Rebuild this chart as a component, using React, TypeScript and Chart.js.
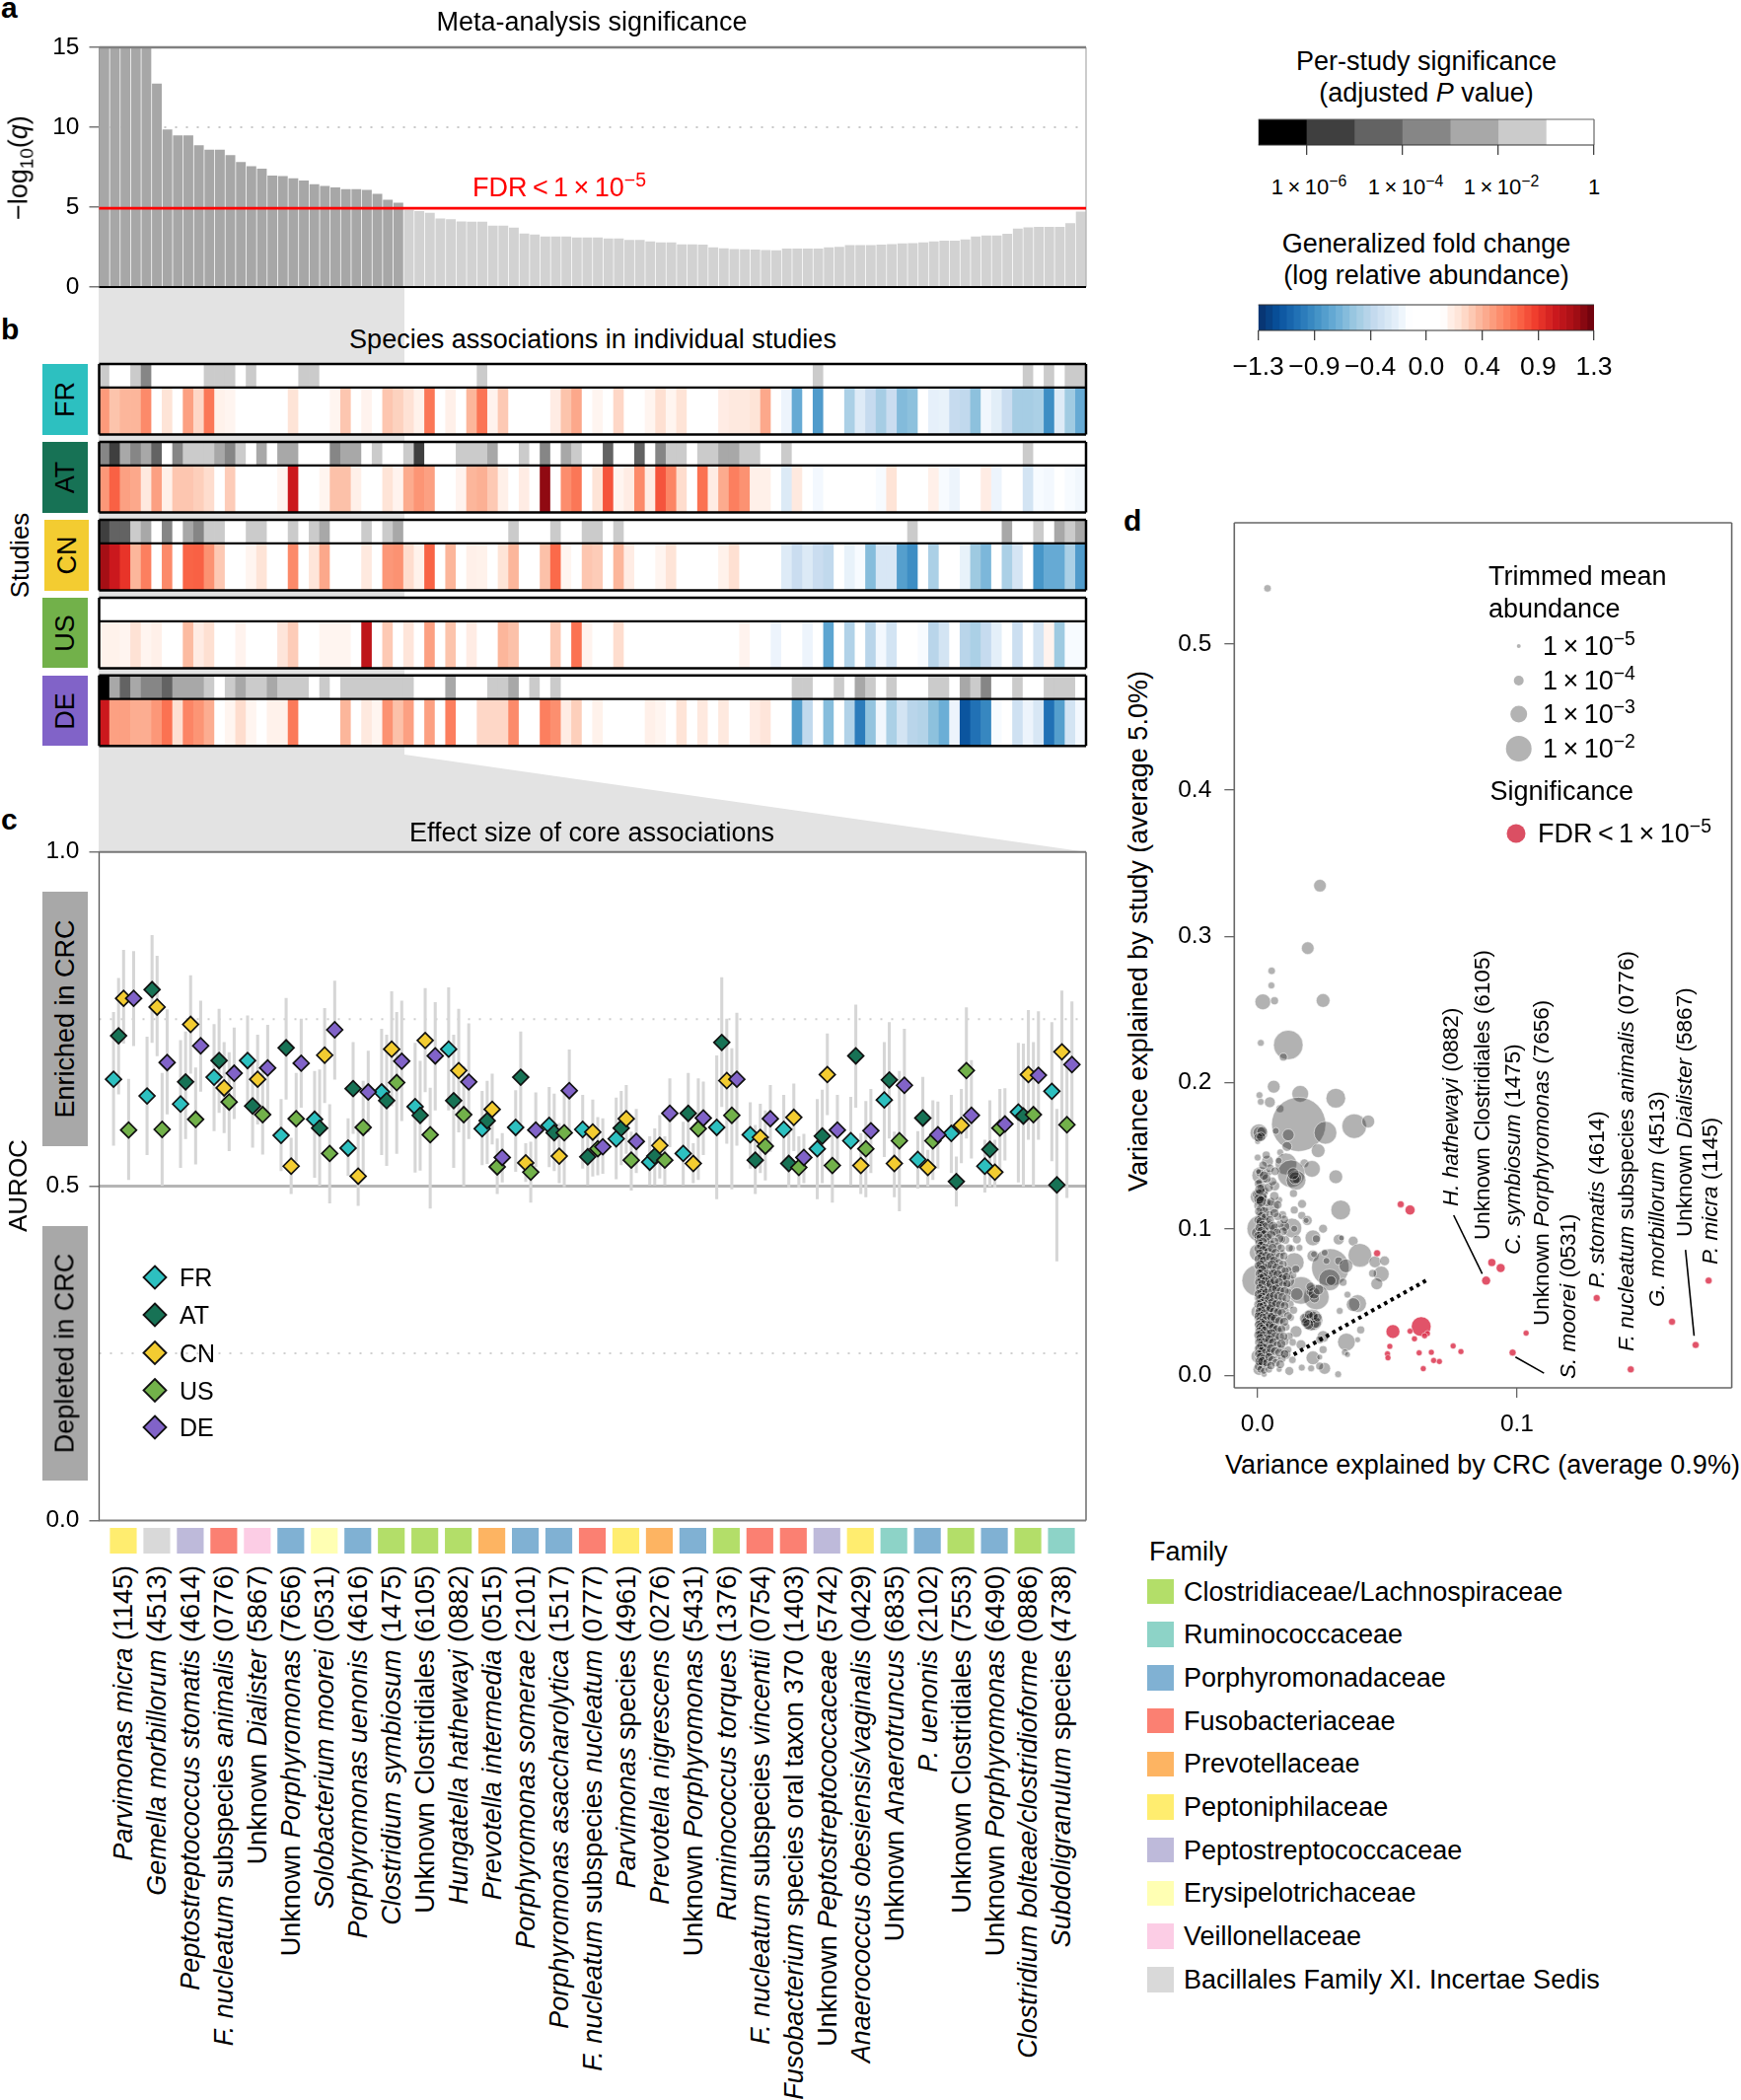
import React, { useEffect, useRef } from "react";
import { Chart, registerables } from "chart.js";
Chart.register(...registerables);

const FONT = '"Liberation Sans", Arial, Helvetica, sans-serif';

// ---------- panel a ----------
const metaSignificance = [
  15, 15, 15, 15, 15, 12.73, 9.86, 9.49, 9.49, 8.87, 8.6, 8.6, 8.25, 7.82, 7.56, 7.41, 6.98, 6.94, 6.8, 6.67, 6.43, 6.32, 6.24, 6.12, 6.12, 6.08, 5.83, 5.46, 5.28,
  4.83, 4.76, 4.64, 4.29, 4.25, 4.11, 4.09, 4.09, 3.84, 3.84, 3.72, 3.35, 3.29, 3.16, 3.16, 3.16, 3.1, 3.1, 3.1, 3.04, 3.04, 2.94, 2.94, 2.85, 2.79, 2.79, 2.67, 2.67, 2.65, 2.48, 2.42, 2.38, 2.36, 2.34, 2.32, 2.3,
  2.4, 2.4, 2.4, 2.4, 2.48, 2.52, 2.63, 2.63, 2.63, 2.65, 2.69, 2.73, 2.75, 2.79, 2.85, 2.9, 2.9, 2.98, 3.16, 3.22, 3.22, 3.33, 3.66, 3.74, 3.76, 3.76, 3.76, 4.0, 4.72,
];
const coreCount = 29;
const fdrLine = 4.93;
const significanceTicks = [0, 5, 10, 15];

// ---------- panel b ----------
const studies = ["FR", "AT", "CN", "US", "DE"];
const studyColors = ["#2dc0c0", "#177255", "#f3cc31", "#72b14a", "#8163c8"];

const fcFR = [0.52, 0.37, 0.42, 0.42, 0.58, 0, 0.25, 0, 0.5, 0.3, 0.65, 0.17, 0.15, 0, 0, 0, 0, 0, 0.25, 0, 0, 0, 0.15, 0.36, 0, 0.16, 0, 0.36, 0.32, 0.26, 0.17, 0.65, 0, 0.18, 0, 0.42, 0.66, 0.16, 0.35, 0, 0, 0, 0, 0.2, 0.37, 0.47, 0, 0.15, 0, 0.3, 0, 0, 0.15, 0.27, 0.15, 0.25, 0, 0, 0, 0.2, 0.22, 0.22, 0.25, 0.47, 0, -0.2, -0.72, 0, -0.8, 0, 0, -0.5, -0.27, -0.4, -0.52, -0.38, -0.63, -0.6, 0, -0.23, -0.22, -0.4, -0.42, -0.6, -0.18, -0.25, -0.38, -0.52, -0.52, -0.5, -0.87, -0.27, -0.54, -0.72];
const fcAT = [0.53, 0.73, 0.5, 0.47, 0.22, 0.5, 0.18, 0.36, 0.36, 0.33, 0.28, 0, 0.34, 0, 0, 0, 0, 0.15, 1.0, 0, 0, 0.15, 0.38, 0.38, 0.18, 0, 0, 0.25, 0.16, 0.46, 0.54, 0.5, 0, 0, 0.16, 0.42, 0.44, 0.35, 0.18, 0, 0.2, 0, 1.2, 0, 0.57, 0.65, 0, 0.25, 0.77, 0.15, 0.2, 0.58, 0.2, 0.77, 0.6, 0.28, 0, 0.67, 0.2, 0.46, 0.62, 0.55, 0.18, 0.18, 0, -0.28, 0.22, 0, -0.17, 0, 0, 0, 0, 0, -0.15, 0.25, 0, 0, 0, 0.18, -0.15, -0.2, 0, 0, 0.2, -0.2, 0, 0, -0.33, -0.15, -0.17, 0, -0.15, -0.18];
const fcCN = [1.15, 1.0, 0.88, 0.42, 0.62, 0, 0.58, 0, 0.72, 0.73, 0.55, 0.35, 0, 0, 0.15, 0.25, 0, 0, 0.58, 0, 0.24, 0.47, 0, 0, 0, 0.22, 0, 0.53, 0.55, 0.28, 0.17, 0.72, 0, 0.42, 0, 0.18, 0.17, 0, 0.25, 0.42, 0, 0, 0.38, 0.7, 0.15, 0, 0.36, 0.34, 0, 0.42, 0.2, 0, 0, 0.15, 0.25, 0, 0, 0, 0, 0.17, 0.27, 0, 0, 0, 0, -0.27, -0.38, -0.28, -0.38, -0.42, 0, -0.22, -0.15, -0.62, -0.3, -0.3, -0.78, -0.87, 0, -0.5, 0, 0, -0.22, -0.55, -0.65, 0, -0.5, -0.32, 0, -0.83, -0.72, -0.72, -0.5, -0.8];
const fcUS = [0.17, 0.17, 0.15, 0.26, 0.15, 0.18, 0, 0, 0.4, 0.2, 0.27, 0, 0, 0.16, 0, 0, 0, 0.24, 0.34, 0, 0, 0.15, 0.15, 0.15, 0, 1.05, 0, 0.35, 0, 0.24, 0, 0.5, 0, 0.37, 0, 0.2, 0, 0, 0.42, 0.38, 0, 0, 0, 0.35, 0, 0.67, 0.16, 0, 0, 0.28, 0, 0, 0, 0, 0, 0, 0, 0, 0, 0, 0, 0.16, 0, 0, -0.2, 0, 0, -0.2, 0, -0.75, 0, -0.48, 0, -0.45, -0.17, -0.33, 0, 0, -0.15, -0.45, -0.33, 0, -0.45, -0.5, -0.4, -0.24, 0, -0.37, 0, -0.33, 0.16, -0.55, -0.15, -0.15];
const fcDE = [1.0, 0.5, 0.5, 0.45, 0.45, 0.53, 0.67, 0.27, 0.6, 0.54, 0.45, 0, 0.15, 0.28, 0.15, 0, 0.17, 0.17, 0.64, 0, 0, 0, 0, 0.42, 0, 0.22, 0.15, 0.55, 0.38, 0.5, 0, 0.5, 0, 0.62, 0, 0, 0.3, 0.3, 0.3, 0.58, 0, 0, 0.62, 0.56, 0.2, 0.33, 0, 0.17, 0, 0, 0, 0, 0.18, 0.15, 0, 0.25, 0, 0.22, 0, 0.22, 0, 0, 0.2, 0.24, 0, 0, -0.78, -0.42, 0, -0.62, 0, -0.48, -0.95, -0.58, -0.18, -0.5, -0.33, -0.45, -0.47, -0.6, -0.7, -0.2, -1.13, -1.0, -0.9, -0.15, 0, -0.35, -0.2, -0.3, -1.0, -0.78, -0.33, -0.17];
const foldChanges = [fcFR, fcAT, fcCN, fcUS, fcDE];

const sigFR = [1, 0, 0, 1, 3, 0, 0, 0, 0, 0, 1, 1, 1, 0, 1, 0, 0, 0, 0, 1, 1, 0, 0, 0, 0, 0, 0, 0, 0, 0, 0, 0, 0, 0, 0, 0, 1, 0, 0, 0, 0, 0, 0, 0, 0, 0, 0, 0, 0, 0, 0, 0, 0, 0, 0, 0, 0, 0, 0, 0, 0, 0, 0, 0, 0, 0, 0, 0, 1, 0, 0, 0, 0, 0, 0, 0, 0, 0, 0, 0, 0, 0, 0, 0, 0, 0, 0, 0, 1, 0, 1, 0, 1, 1];
const sigAT = [3, 5, 2, 3, 2, 4, 0, 3, 1, 1, 1, 2, 3, 1, 0, 2, 0, 2, 2, 0, 0, 0, 3, 2, 2, 0, 1, 0, 0, 1, 5, 0, 0, 0, 1, 1, 1, 2, 0, 0, 1, 0, 3, 0, 2, 1, 0, 0, 4, 0, 0, 4, 0, 3, 1, 1, 0, 1, 1, 2, 2, 1, 1, 0, 0, 1, 0, 0, 0, 0, 0, 0, 0, 0, 0, 0, 0, 0, 0, 0, 0, 0, 0, 0, 0, 0, 0, 0, 1, 0, 0, 0, 0, 0];
const sigCN = [5, 4, 4, 1, 2, 0, 3, 0, 2, 3, 1, 1, 0, 0, 1, 1, 0, 0, 1, 0, 1, 2, 0, 0, 0, 1, 0, 1, 2, 0, 0, 0, 0, 0, 0, 0, 0, 0, 0, 1, 0, 0, 0, 1, 0, 0, 1, 1, 0, 1, 0, 0, 0, 0, 0, 0, 0, 0, 0, 0, 0, 0, 0, 0, 0, 0, 0, 0, 0, 0, 0, 0, 0, 0, 0, 0, 0, 1, 0, 0, 0, 0, 0, 0, 0, 0, 2, 0, 0, 1, 0, 2, 1, 2];
const sigUS = [0, 0, 0, 0, 0, 0, 0, 0, 0, 0, 0, 0, 0, 0, 0, 0, 0, 0, 0, 0, 0, 0, 0, 0, 0, 0, 0, 0, 0, 0, 0, 0, 0, 0, 0, 0, 0, 0, 0, 0, 0, 0, 0, 0, 0, 0, 0, 0, 0, 0, 0, 0, 0, 0, 0, 0, 0, 0, 0, 0, 0, 0, 0, 0, 0, 0, 0, 0, 0, 0, 0, 0, 0, 0, 0, 0, 0, 0, 0, 0, 0, 0, 0, 0, 0, 0, 0, 0, 0, 0, 0, 0, 0, 0];
const sigDE = [6, 2, 4, 2, 3, 3, 4, 2, 2, 2, 1, 0, 1, 2, 1, 1, 2, 1, 1, 1, 0, 1, 0, 1, 1, 1, 1, 1, 1, 1, 0, 0, 0, 2, 0, 0, 0, 1, 1, 2, 0, 1, 0, 1, 0, 0, 0, 0, 0, 0, 0, 0, 0, 0, 0, 0, 0, 0, 0, 0, 0, 0, 0, 0, 0, 0, 1, 1, 0, 0, 1, 0, 2, 1, 0, 1, 0, 0, 0, 1, 1, 0, 2, 1, 3, 0, 0, 1, 0, 0, 1, 1, 1, 0];
const significance = [sigFR, sigAT, sigCN, sigUS, sigDE];
const sigGreys = ["#ffffff", "#cbcbcb", "#a8a8a8", "#868686", "#636363", "#3f3f3f", "#000000"];

// ---------- panel c ----------
const aurocFR = [0.66, 0.635, 0.623, 0.663, 0.688, 0.576, 0.6, 0.557, 0.641, 0.619, 0.705, 0.586, 0.588, 0.591, 0.585, 0.571, 0.536, 0.549, 0.588, 0.577, 0.585, 0.556, 0.568, 0.629, 0.54, 0.579, 0.53, 0.611, 0.642];
const aurocAT = [0.725, 0.794, 0.656, 0.688, 0.62, 0.707, 0.587, 0.646, 0.628, 0.606, 0.628, 0.598, 0.663, 0.58, 0.544, 0.587, 0.545, 0.609, 0.715, 0.539, 0.534, 0.575, 0.695, 0.659, 0.602, 0.507, 0.555, 0.605, 0.502];
const aurocCN = [0.781, 0.768, 0.742, 0.647, 0.66, 0.53, 0.696, 0.515, 0.705, 0.718, 0.673, 0.615, 0.535, 0.545, 0.581, 0.601, 0.561, 0.534, 0.658, 0.573, 0.603, 0.667, 0.531, 0.534, 0.528, 0.591, 0.521, 0.667, 0.701];
const aurocUS = [0.584, 0.585, 0.6, 0.626, 0.607, 0.601, 0.549, 0.588, 0.655, 0.577, 0.607, 0.529, 0.521, 0.58, 0.556, 0.539, 0.539, 0.586, 0.606, 0.56, 0.528, 0.531, 0.556, 0.568, 0.568, 0.673, 0.587, 0.607, 0.592];
const aurocDE = [0.781, 0.685, 0.71, 0.669, 0.677, 0.684, 0.734, 0.641, 0.687, 0.695, 0.656, 0.543, 0.584, 0.643, 0.559, 0.567, 0.609, 0.602, 0.66, 0.601, 0.543, 0.584, 0.583, 0.651, 0.577, 0.606, 0.593, 0.666, 0.682];
const auroc = [aurocFR, aurocAT, aurocCN, aurocUS, aurocDE];

const hiFR = [0.76, 0.723, 0.718, 0.742, 0.755, 0.63, 0.672, 0.601, 0.735, 0.714, 0.797, 0.642, 0.643, 0.648, 0.636, 0.632, 0.574, 0.596, 0.695, 0.625, 0.636, 0.63, 0.633, 0.715, 0.582, 0.636, 0.569, 0.714, 0.745];
const loFR = [0.561, 0.547, 0.528, 0.583, 0.62, 0.523, 0.513, 0.516, 0.547, 0.521, 0.614, 0.532, 0.522, 0.529, 0.527, 0.511, 0.502, 0.502, 0.481, 0.527, 0.534, 0.481, 0.502, 0.544, 0.497, 0.52, 0.491, 0.506, 0.538];
const hiAT = [0.811, 0.875, 0.731, 0.765, 0.687, 0.781, 0.674, 0.715, 0.726, 0.687, 0.726, 0.657, 0.731, 0.638, 0.581, 0.642, 0.586, 0.669, 0.812, 0.591, 0.583, 0.644, 0.771, 0.745, 0.663, 0.544, 0.628, 0.713, 0.615];
const loAT = [0.638, 0.715, 0.571, 0.61, 0.558, 0.63, 0.501, 0.579, 0.531, 0.524, 0.528, 0.534, 0.593, 0.523, 0.502, 0.532, 0.502, 0.549, 0.619, 0.489, 0.498, 0.505, 0.618, 0.572, 0.541, 0.47, 0.5, 0.5, 0.388];
const hiCN = [0.853, 0.844, 0.815, 0.715, 0.726, 0.572, 0.766, 0.583, 0.791, 0.796, 0.765, 0.668, 0.564, 0.594, 0.629, 0.651, 0.606, 0.564, 0.75, 0.623, 0.653, 0.728, 0.579, 0.581, 0.554, 0.645, 0.569, 0.763, 0.792];
const loCN = [0.714, 0.695, 0.669, 0.58, 0.593, 0.489, 0.625, 0.471, 0.62, 0.641, 0.581, 0.563, 0.507, 0.505, 0.515, 0.549, 0.512, 0.505, 0.564, 0.52, 0.553, 0.607, 0.489, 0.484, 0.5, 0.535, 0.498, 0.57, 0.596];
const hiUS = [0.66, 0.669, 0.677, 0.7, 0.682, 0.669, 0.622, 0.657, 0.76, 0.647, 0.679, 0.571, 0.566, 0.645, 0.603, 0.581, 0.574, 0.661, 0.706, 0.613, 0.574, 0.586, 0.627, 0.672, 0.628, 0.767, 0.645, 0.715, 0.684];
const loUS = [0.51, 0.501, 0.533, 0.553, 0.548, 0.537, 0.475, 0.52, 0.549, 0.467, 0.5, 0.489, 0.476, 0.499, 0.517, 0.494, 0.502, 0.51, 0.496, 0.509, 0.498, 0.476, 0.484, 0.463, 0.51, 0.572, 0.527, 0.5, 0.483];
const hiDE = [0.851, 0.764, 0.777, 0.737, 0.741, 0.75, 0.807, 0.702, 0.777, 0.775, 0.743, 0.579, 0.64, 0.704, 0.601, 0.615, 0.661, 0.656, 0.759, 0.651, 0.578, 0.636, 0.645, 0.735, 0.626, 0.688, 0.646, 0.761, 0.776];
const loDE = [0.71, 0.608, 0.642, 0.601, 0.61, 0.618, 0.66, 0.581, 0.598, 0.614, 0.571, 0.506, 0.529, 0.583, 0.519, 0.52, 0.559, 0.547, 0.561, 0.552, 0.505, 0.532, 0.52, 0.569, 0.527, 0.542, 0.539, 0.57, 0.589];
const aurocHi = [hiFR, hiAT, hiCN, hiUS, hiDE];
const aurocLo = [loFR, loAT, loCN, loUS, loDE];
const studySlot = [-0.3, -0.15, 0, 0.15, 0.3];

const speciesLabels = [
  "*Parvimonas micra* (1145)", "*Gemella morbillorum* (4513)", "*Peptostreptococcus stomatis* (4614)", "*F. nucleatum* subspecies *animalis* (0776)",
  "Unknown *Dialister* (5867)", "Unknown *Porphyromonas* (7656)", "*Solobacterium moorei* (0531)", "*Porphyromonas uenonis* (4616)",
  "*Clostridium symbiosum* (1475)", "Unknown Clostridiales (6105)", "*Hungatella hathewayi* (0882)", "*Prevotella intermedia* (0515)",
  "*Porphyromonas somerae* (2101)", "*Porphyromonas asaccharolytica* (1517)", "*F. nucleatum* subspecies *nucleatum* (0777)", "*Parvimonas* species (4961)",
  "*Prevotella nigrescens* (0276)", "Unknown *Porphyromonas* (5431)", "*Ruminococcus torques* (1376)", "*F. nucleatum* subspecies *vincentii* (0754)",
  "*Fusobacterium* species oral taxon 370 (1403)", "Unknown *Peptostreptococcaceae* (5742)", "*Anaerococcus obesiensis/vaginalis* (0429)", "Unknown *Anaerotruncus* (6835)",
  "*P. uenonis* (2102)", "Unknown Clostridiales (7553)", "Unknown *Porphyromonas* (6490)", "*Clostridium bolteae/clostridioforme* (0886)", "*Subdoligranulum* species (4738)",
];
const familyNames = ["Clostridiaceae/Lachnospiraceae", "Ruminococcaceae", "Porphyromonadaceae", "Fusobacteriaceae", "Prevotellaceae", "Peptoniphilaceae", "Peptostreptococcaceae", "Erysipelotrichaceae", "Veillonellaceae", "Bacillales Family XI. Incertae Sedis"];
const familyColors = ["#b3de69", "#8dd3c7", "#80b1d3", "#fb8072", "#fdb462", "#ffed6f", "#bebada", "#ffffb3", "#fccde5", "#d9d9d9"];
const speciesFamily = [5, 9, 6, 3, 8, 2, 7, 2, 0, 0, 0, 4, 2, 2, 3, 5, 4, 2, 0, 3, 3, 6, 5, 1, 2, 0, 2, 0, 1];

// ---------- panel d: [variance by CRC, variance by study, log10 trimmed mean abundance] ----------
const speciesGrey: number[][] = [
  [0.0039, 0.538, -4.4], [0.0241, 0.3347, -3.6], [0.0194, 0.292, -3.6], [0.0055, 0.2765, -4.4], [0.0021, 0.2553, -3.14], [0.0066, 0.256, -4.33], [0.0253, 0.2562, -3.43], [0.0054, 0.2665, -4.5], [0.0119, 0.2258, -1.78], [0.0013, 0.2272, -4.5], [0.01, 0.2175, -4.33],
  [0.0063, 0.1973, -3.57], [0.0165, 0.1924, -3], [0.0302, 0.1894, -2.67], [0.0008, 0.1915, -4.5], [0.0013, 0.187, -4.5], [0.0048, 0.1867, -3.86], [0.0087, 0.1822, -4.33], [0.0159, 0.1715, -0.5], [0.0373, 0.1703, -2.11], [0.0427, 0.1735, -3.57], [0.0262, 0.1658, -2.33], [0.0006, 0.1658, -2.89], [0.0008, 0.1658, -3.57], [0.0071, 0.167, -4.5], [0.0119, 0.1643, -3.71], [0.0114, 0.1564, -4], [0.0234, 0.1535, -3.43], [0.0088, 0.1524, -4.5], [0.0001, 0.1598, -4.67],
  [0.0001, 0.1488, -4.5], [0.0039, 0.1463, -3.71], [0.011, 0.1445, -2.44], [0.0082, 0.1467, -4.5], [0.0181, 0.1449, -4.17], [0.021, 0.1411, -3], [0.013, 0.1378, -1.89], [0.0149, 0.1333, -2.67], [0.0149, 0.1339, -4.33], [0.0302, 0.1357, -3.43], [0.0013, 0.1366, -2.89], [0.0009, 0.1384, -4.33], [0.0004, 0.1393, -4.67], [0.0139, 0.1243, -4.33], [0.0067, 0.1294, -4], [0.0045, 0.1384, -4.67],
  [0.0003, 0.122, -3.14], [0.0, 0.1236, -4], [0.0022, 0.1243, -4], [0.0058, 0.1153, -3.43], [0.0172, 0.1171, -4.17], [0.0321, 0.113, -2.67], [0.0142, 0.113, -4.33], [0.0084, 0.1198, -4.5], [0.0171, 0.1092, -4.33], [0.0192, 0.1058, -4], [0.0097, 0.1097, -4.33],
  [0.0013, 0.1002, -1.89], [0.0133, 0.1007, -2.67], [0.0253, 0.1002, -4.17], [0.0106, 0.1018, -4], [0.0142, 0.1002, -4.5], [0.0069, 0.0996, -3.71], [0.0188, 0.1058, -4.67], [0.0006, 0.1085, -4.67], [0.0, 0.0973, -3.71], [0.0006, 0.0928, -4],
  [0.0214, 0.0939, -3.14], [0.0227, 0.0933, -4.33], [0.0313, 0.0928, -3.86], [0.0324, 0.0939, -4.67], [0.0369, 0.0917, -4], [0.0395, 0.082, -2.22], [0.0214, 0.0816, -3.71], [0.0133, 0.0867, -4.5], [0.0162, 0.0872, -4.5], [0.0097, 0.0838, -4.67], [0.0003, 0.0838, -2.89],
  [0.0142, 0.0771, -2.67], [0.0281, 0.0737, -1.33], [0.0278, 0.0652, -2.44], [0.0284, 0.0647, -4], [0.0218, 0.0827, -4.5], [0.0259, 0.0838, -4.5], [0.0266, 0.0782, -4.5], [0.0313, 0.0782, -4.33], [0.0341, 0.0748, -3.43], [0.0453, 0.0775, -3.71], [0.049, 0.0782, -4], [0.0477, 0.0692, -3.14], [0.0444, 0.0697, -4.33], [0.046, 0.0625, -3.71], [0.033, 0.0636, -4.33],
  [0.0227, 0.0535, -2], [0.0168, 0.058, -1.89], [0.0201, 0.0569, -4.5], [0.022, 0.0528, -4], [0.0001, 0.0647, -1.67], [0.0117, 0.0647, -3.43], [0.0097, 0.0681, -4], [0.0039, 0.0681, -4.33], [0.0386, 0.049, -2.89], [0.0369, 0.0483, -3.43], [0.0347, 0.0551, -4.5], [0.0317, 0.044, -4.5], [0.0002, 0.0434, -3.43],
  [0.021, 0.0378, -2.44], [0.0207, 0.0366, -2.89], [0.0181, 0.0389, -4], [0.0398, 0.031, -4.33], [0.0343, 0.0227, -2.89], [0.0386, 0.0243, -4.67], [0.0337, 0.0157, -4.5], [0.0347, 0.0142, -4.67], [0.0253, 0.0175, -4.33], [0.0253, 0.0265, -3.71], [0.0149, 0.0299, -3.71], [0.024, 0.0243, -4.33],
  [0.0002, 0.013, -3.43], [0.0123, 0.0029, -4.17], [0.0006, 0.004, -3.71], [0.0259, 0.0047, -3.71], [0.024, 0.0063, -4.33], [0.0311, 0.0007, -4.5], [0.0171, 0.0052, -4.5], [0.0207, 0.0047, -4.5], [0.0084, 0.004, -4.67], [0.0214, 0.0119, -3.43], [0.0168, 0.0209, -4], [0.024, 0.0124, -4.67], [0.011, 0.0142, -4], [0.0026, 0.0007, -4.67],
  // dense cloud near zero
  [0.0009, 0.132, -4.4], [0.0021, 0.129, -4.5], [0.0012, 0.125, -4.3], [0.0028, 0.121, -4.6], [0.0005, 0.119, -4.2], [0.0017, 0.116, -4.4], [0.0033, 0.113, -4.5], [0.0008, 0.11, -4.5], [0.0024, 0.107, -4.3], [0.0041, 0.104, -4.6], [0.0013, 0.102, -4.2], [0.0031, 0.099, -4.4],
  [0.0006, 0.096, -4.5], [0.0019, 0.094, -4.4], [0.0047, 0.092, -4.4], [0.0026, 0.09, -4.1], [0.0011, 0.088, -4.5], [0.0036, 0.087, -4.3], [0.0058, 0.085, -4.6], [0.0004, 0.084, -4.4], [0.0018, 0.082, -4.3], [0.0029, 0.08, -4.5], [0.0043, 0.079, -4.2], [0.0072, 0.078, -4.5], [0.001, 0.077, -4.1],
  [0.0023, 0.075, -4.4], [0.0035, 0.074, -4.2], [0.0052, 0.073, -4.5], [0.0067, 0.072, -4.3], [0.0007, 0.071, -4.6], [0.0015, 0.07, -4.2], [0.0027, 0.069, -4.3], [0.0039, 0.067, -4.5], [0.0088, 0.068, -4.4], [0.0056, 0.066, -4.2], [0.0004, 0.066, -4.5], [0.0019, 0.065, -4.1], [0.0031, 0.063, -4.4], [0.0046, 0.062, -4.3], [0.0074, 0.063, -4.2],
  [0.0104, 0.064, -4.5], [0.0011, 0.061, -4.3], [0.0024, 0.06, -4.2], [0.0037, 0.058, -4.5], [0.0062, 0.059, -4.4], [0.0085, 0.058, -4.2], [0.0007, 0.057, -4.4], [0.0016, 0.056, -4.6], [0.0029, 0.055, -4.1], [0.0049, 0.055, -4.3], [0.0119, 0.057, -4.4], [0.0003, 0.053, -4.3], [0.0013, 0.052, -4.2], [0.0022, 0.051, -4.5],
  [0.0035, 0.051, -4.2], [0.0055, 0.05, -4.4], [0.0078, 0.051, -4.5], [0.0098, 0.05, -4.3], [0.0008, 0.049, -4.4], [0.0018, 0.048, -4.1], [0.0028, 0.047, -4.3], [0.0042, 0.047, -4.6], [0.0068, 0.046, -4.3], [0.0004, 0.046, -4.5], [0.0012, 0.045, -4.2], [0.0024, 0.044, -4.4], [0.0037, 0.043, -4.2], [0.0051, 0.043, -4.5], [0.0085, 0.044, -4.3],
  [0.0111, 0.044, -4.5], [0.0007, 0.042, -4.1], [0.0017, 0.041, -4.4], [0.0031, 0.04, -4.3], [0.0045, 0.039, -4.2], [0.0062, 0.04, -4.4], [0.0002, 0.039, -4.4], [0.0011, 0.038, -4.3], [0.0022, 0.037, -4.2], [0.0036, 0.036, -4.6], [0.0054, 0.036, -4.3], [0.0072, 0.037, -4.5], [0.0095, 0.038, -4.4],
  [0.0006, 0.035, -4.2], [0.0015, 0.034, -4.5], [0.0027, 0.033, -4.1], [0.0041, 0.033, -4.4], [0.0003, 0.032, -4.5], [0.0012, 0.031, -4.2], [0.0021, 0.03, -4.4], [0.0034, 0.029, -4.3], [0.0049, 0.03, -4.2], [0.0065, 0.031, -4.5], [0.0083, 0.03, -4.3], [0.0008, 0.028, -4.3], [0.0017, 0.027, -4.5], [0.0028, 0.026, -4.2], [0.0042, 0.025, -4.4], [0.0058, 0.026, -4.4],
  [0.0004, 0.025, -4.4], [0.0013, 0.024, -4.2], [0.0023, 0.023, -4.3], [0.0036, 0.022, -4.5], [0.0076, 0.024, -4.4], [0.0009, 0.021, -4.5], [0.0018, 0.02, -4.2], [0.0031, 0.019, -4.4], [0.0047, 0.019, -4.3], [0.0003, 0.018, -4.3], [0.0012, 0.017, -4.4], [0.0024, 0.016, -4.1], [0.0039, 0.015, -4.5], [0.0063, 0.017, -4.4], [0.0092, 0.018, -4.2],
  [0.0007, 0.014, -4.3], [0.0018, 0.013, -4.4], [0.0031, 0.012, -4.5], [0.0051, 0.013, -4.3], [0.0002, 0.011, -4.5], [0.0013, 0.01, -4.2], [0.0024, 0.009, -4.4], [0.0042, 0.009, -4.3], [0.0075, 0.012, -4.6], [0.0008, 0.008, -4.4], [0.0018, 0.007, -4.2], [0.0033, 0.006, -4.5], [0.0004, 0.006, -4.3], [0.0012, 0.004, -4.4], [0.0025, 0.003, -4.5], [0.0044, 0.004, -4.4], [0.0015, 0.014, -4.1], [0.0009, 0.0445, -4.3], [0.0016, 0.0785, -4.2], [0.0011, 0.104, -4.3], [0.0022, 0.098, -4.4], [0.0015, 0.091, -4.4], [0.0009, 0.073, -4.3],
  // second pass through the densest part of the cloud
  [0.0004, 0.131, -4.3], [0.0016, 0.128, -4.2], [0.003, 0.126, -4.4], [0.0007, 0.124, -4.1], [0.0021, 0.122, -4.2], [0.001, 0.12, -4.2], [0.0037, 0.118, -4.3], [0.0002, 0.116, -4.3], [0.0013, 0.114, -4.2], [0.0025, 0.112, -4.1], [0.0005, 0.112, -4.3], [0.0016, 0.109, -4.2], [0.003, 0.108, -4.3], [0.0047, 0.11, -4.4], [0.0003, 0.106, -4.2], [0.0012, 0.105, -4.1], [0.0021, 0.103, -4.3], [0.0034, 0.102, -4.2], [0.0006, 0.101, -4.3],
  [0.0015, 0.0985, -4.1], [0.0027, 0.0965, -4.2], [0.0003, 0.0955, -4.2], [0.0011, 0.094, -4.3], [0.0038, 0.094, -4.1], [0.0021, 0.0915, -4.2], [0.0006, 0.0905, -4.3], [0.0052, 0.0895, -4.2], [0.0014, 0.0885, -4.1], [0.003, 0.0875, -4.3], [0.0003, 0.0865, -4.2], [0.0022, 0.0855, -4.1], [0.0042, 0.0845, -4.2], [0.0009, 0.0835, -4.3], [0.0016, 0.0815, -4.2], [0.0034, 0.0815, -4.1], [0.0062, 0.0805, -4.2],
  [0.0005, 0.0795, -4.1], [0.0024, 0.0785, -4.2], [0.0012, 0.076, -4.2], [0.0045, 0.0755, -4.3], [0.0003, 0.075, -4.3], [0.0029, 0.0735, -4.1], [0.0018, 0.0725, -4.2], [0.0058, 0.0705, -4.2], [0.0009, 0.0695, -4.1], [0.0037, 0.0695, -4.3], [0.0023, 0.0675, -4.2], [0.0014, 0.0665, -4.2], [0.0047, 0.0655, -4.1], [0.0006, 0.0635, -4.2], [0.003, 0.0645, -4.2], [0.0018, 0.0625, -4.3], [0.0068, 0.0615, -4.1], [0.004, 0.0605, -4.2],
  [0.0009, 0.0595, -4.2], [0.0024, 0.058, -4.1], [0.0014, 0.0565, -4.3], [0.0053, 0.057, -4.2], [0.0004, 0.0555, -4.2], [0.0033, 0.0565, -4.2], [0.0019, 0.0535, -4.1], [0.0009, 0.0525, -4.2], [0.0043, 0.0525, -4.1], [0.0028, 0.0515, -4.3], [0.0066, 0.0525, -4.2], [0.0015, 0.0495, -4.2], [0.0038, 0.049, -4.2], [0.0004, 0.0485, -4.1], [0.0023, 0.0475, -4.2], [0.0055, 0.0475, -4.2], [0.0011, 0.047, -4.3], [0.0032, 0.0455, -4.1], [0.0018, 0.0445, -4.2], [0.0046, 0.0445, -4.2],
  [0.0007, 0.0435, -4.2], [0.0027, 0.0425, -4.2], [0.0014, 0.0405, -4.1], [0.0039, 0.0405, -4.2], [0.0003, 0.0405, -4.3], [0.0022, 0.0395, -4.2], [0.0056, 0.0395, -4.1], [0.0009, 0.037, -4.2], [0.0031, 0.0375, -4.1], [0.0017, 0.036, -4.2], [0.0045, 0.0355, -4.2], [0.0005, 0.0345, -4.2], [0.0025, 0.035, -4.2], [0.0012, 0.033, -4.1], [0.0036, 0.0325, -4.2], [0.0062, 0.0345, -4.2], [0.0019, 0.032, -4.2], [0.0007, 0.03, -4.2], [0.0029, 0.0305, -4.1],
  [0.0044, 0.0285, -4.2], [0.0014, 0.0285, -4.2], [0.0024, 0.0275, -4.2], [0.0004, 0.0275, -4.1], [0.0035, 0.0255, -4.3], [0.0011, 0.0255, -4.2], [0.0019, 0.0235, -4.2], [0.0028, 0.0225, -4.1], [0.0006, 0.0225, -4.2], [0.0055, 0.022, -4.2], [0.0014, 0.0205, -4.2], [0.0038, 0.0195, -4.2], [0.0023, 0.019, -4.2], [0.0008, 0.0185, -4.1], [0.0017, 0.0165, -4.2], [0.0031, 0.0155, -4.2], [0.0005, 0.0145, -4.2], [0.0046, 0.0155, -4.3], [0.0012, 0.0125, -4.2], [0.0024, 0.0115, -4.2], [0.0007, 0.0095, -4.2], [0.0019, 0.0095, -4.1], [0.0036, 0.0085, -4.3],
  // larger dark clumps
  [0.0006, 0.1205, -3.9], [0.001, 0.127, -3.9], [0.0015, 0.119, -3.9], [0.0018, 0.1665, -3.9], [0.0004, 0.1625, -4.1], [0.0014, 0.163, -4.1], [0.0211, 0.0395, -3.7], [0.0225, 0.036, -3.8], [0.0196, 0.0348, -3.9], [0.0216, 0.0408, -4.1], [0.0185, 0.0362, -4.1], [0.0232, 0.0395, -4.2], [0.0198, 0.0415, -4.2], [0.0152, 0.0555, -3.6], [0.0218, 0.0562, -3.7], [0.0235, 0.0585, -3.9], [0.0205, 0.0605, -4.1], [0.0146, 0.1348, -3.6], [0.0138, 0.1378, -3.7], [0.0152, 0.0928, -4.2], [0.0123, 0.087, -4.3], [0.0108, 0.0925, -4.2], [0.0093, 0.093, -4.3], [0.0099, 0.0985, -4.2], [0.0088, 0.1035, -4.3], [0.0103, 0.1065, -4.2], [0.0078, 0.1085, -4.3], [0.0118, 0.0715, -4.2], [0.0136, 0.0685, -4.3], [0.0148, 0.0725, -4.3], [0.0125, 0.0485, -4.2], [0.0139, 0.0445, -4.3], [0.0128, 0.0395, -4.4], [0.011, 0.033, -4.3], [0.0122, 0.0265, -4.3], [0.0136, 0.0225, -4.4], [0.0106, 0.023, -4.3], [0.0118, 0.0175, -4.4], [0.0095, 0.0115, -4.3], [0.0135, 0.0105, -4.4],
  // wider shoulder of the cloud
  [0.0052, 0.1185, -4.2], [0.0066, 0.1108, -4.1], [0.0049, 0.1062, -4.2], [0.0061, 0.1018, -4], [0.0075, 0.0975, -4.2], [0.0053, 0.0962, -4.1], [0.0084, 0.0935, -4.1], [0.0066, 0.0915, -4.2], [0.0078, 0.0882, -4.2], [0.0091, 0.0868, -4.2], [0.0058, 0.0868, -4], [0.007, 0.0835, -4.1], [0.0086, 0.0812, -4.2], [0.0102, 0.0815, -4.3], [0.0049, 0.0808, -4.1], [0.0064, 0.0785, -4.2], [0.0082, 0.0765, -4.1], [0.0098, 0.0758, -4.2], [0.0056, 0.0755, -4],
  [0.0073, 0.0738, -4.2], [0.0091, 0.0722, -4.1], [0.0107, 0.0712, -4.3], [0.0062, 0.0695, -4.1], [0.0079, 0.0688, -4], [0.0097, 0.0665, -4.2], [0.0112, 0.0672, -4.2], [0.0052, 0.0625, -4], [0.0066, 0.0648, -4.2], [0.0083, 0.0635, -4.1], [0.0098, 0.0615, -4.2], [0.0114, 0.0625, -4.3], [0.0059, 0.0585, -4.1], [0.0073, 0.0592, -4.1], [0.0089, 0.0575, -4.2], [0.0105, 0.0575, -4.1],
  [0.0048, 0.0535, -4.1], [0.0063, 0.0545, -4.2], [0.0081, 0.0538, -4], [0.0095, 0.0535, -4.2], [0.0112, 0.0525, -4.2], [0.0058, 0.0495, -4], [0.0072, 0.0485, -4.1], [0.0088, 0.0482, -4.1], [0.0105, 0.0475, -4.2], [0.0049, 0.0458, -4.2], [0.0064, 0.0435, -4.1], [0.0078, 0.0432, -4.2], [0.0094, 0.0425, -4.1], [0.0118, 0.0405, -4.2], [0.0053, 0.0398, -4.1], [0.0069, 0.0385, -4], [0.0084, 0.0372, -4.2], [0.0103, 0.0365, -4.1],
  [0.0048, 0.0345, -4.2], [0.0061, 0.0325, -4.1], [0.0076, 0.0315, -4.1], [0.0093, 0.0315, -4.2], [0.0054, 0.0285, -4], [0.0069, 0.0268, -4.2], [0.0086, 0.0262, -4.1], [0.0101, 0.0265, -4.2], [0.0046, 0.0245, -4.1], [0.0061, 0.0225, -4.1], [0.0077, 0.0205, -4.2], [0.0092, 0.0215, -4.1], [0.0052, 0.0182, -4.1], [0.0068, 0.0165, -4.2], [0.0084, 0.0155, -4.2], [0.0105, 0.0145, -4.2], [0.0045, 0.0125, -4.2], [0.0058, 0.0105, -4.2], [0.0071, 0.0085, -4.3], [0.0088, 0.0075, -4.2], [0.0052, 0.0065, -4.3],
  [0.0065, 0.1225, -4.1], [0.0078, 0.1165, -4.2], [0.0044, 0.1285, -4.1], [0.0058, 0.1325, -4.2], [0.0035, 0.1345, -4.1], [0.0048, 0.1415, -4.2], [0.0025, 0.1365, -4.1], [0.0022, 0.1435, -4.2], [0.0034, 0.1505, -4.3], [0.0068, 0.1395, -4.2],
];
const speciesRed: number[][] = [
  [0.0552, 0.1169, -4.5], [0.0588, 0.113, -4], [0.0461, 0.0834, -4.5], [0.0903, 0.0771, -4.33], [0.0937, 0.0733, -4.17], [0.0881, 0.0647, -4.17], [0.1307, 0.0528, -4.5], [0.1738, 0.0647, -4.5], [0.1597, 0.0366, -4.5], [0.1688, 0.0207, -4.5], [0.1438, 0.004, -4.5], [0.1035, 0.0288, -4.67], [0.0983, 0.0155, -4.5],
  [0.0522, 0.0299, -3.43], [0.0631, 0.0333, -2.67], [0.0588, 0.0301, -4.67], [0.0655, 0.0285, -4.67], [0.0644, 0.027, -4.67], [0.0605, 0.0249, -4.67], [0.051, 0.0198, -4.67], [0.0501, 0.0146, -4.67], [0.0503, 0.0119, -4.67], [0.0623, 0.0153, -4.67], [0.067, 0.0157, -4.67], [0.0679, 0.0101, -4.67], [0.0701, 0.0094, -4.67], [0.0754, 0.02, -4.67], [0.0784, 0.0162, -4.67], [0.0639, 0.0045, -4.67],
];
const diagonalLine = [[0.014, 0.0142], [0.0654, 0.0652]];
const leaderLines = [
  [[0.0756, 0.1094], [0.0866, 0.0694]],
  [[0.0994, 0.0125], [0.1104, 0.0014]],
  [[0.1649, 0.0857], [0.1682, 0.027]],
];
const pointLabels: [string, number, number][] = [
  ["*H. hathewayi* (0882)", 1471, 1223], ["Unknown Clostridiales (6105)", 1503, 1257], ["*C. symbiosum* (1475)", 1534, 1272], ["Unknown *Porphyromonas* (7656)", 1563, 1344], ["*S. moorei* (0531)", 1590, 1398],
  ["*P. stomatis* (4614)", 1619, 1306], ["*F. nucleatum* subspecies *animalis* (0776)", 1649, 1370], ["*G. morbillorum* (4513)", 1680, 1325], ["Unknown *Dialister* (5867)", 1708, 1254], ["*P. micra* (1145)", 1734, 1282],
];
const abundanceLevels = [-5, -4, -3, -2];

// ---------- colour and size scales ----------
const redStops: [number, string][] = [[0.13, "#ffffff"], [0.15, "#fff5f0"], [0.27, "#fee0d2"], [0.4, "#fcbba1"], [0.55, "#fc9272"], [0.7, "#fb6a4a"], [0.85, "#ef3b2c"], [1.0, "#cb181d"], [1.15, "#a50f15"], [1.3, "#67000d"]];
const blueStops: [number, string][] = [[0.13, "#ffffff"], [0.15, "#f7fbff"], [0.27, "#deebf7"], [0.4, "#c6dbef"], [0.55, "#9ecae1"], [0.7, "#6baed6"], [0.85, "#4292c6"], [1.0, "#2171b5"], [1.15, "#08519c"], [1.3, "#08306b"]];
function hex(c: string) { return [1, 3, 5].map((i) => parseInt(c.slice(i, i + 2), 16)); }
function fcColor(v: number) {
  const a = Math.abs(v);
  if (a <= 0.13) return "#ffffff";
  const st = v > 0 ? redStops : blueStops;
  for (let i = 1; i < st.length; i++) {
    if (a <= st[i][0]) {
      const t = (a - st[i - 1][0]) / (st[i][0] - st[i - 1][0]);
      const p = hex(st[i - 1][1]), q = hex(st[i][1]);
      return `rgb(${p.map((x, k) => Math.round(x + (q[k] - x) * t)).join(",")})`;
    }
  }
  return st[st.length - 1][1];
}
const sizeStops = [[-5, 2], [-4, 5], [-3, 8.5], [-2, 13], [-1.33, 19], [-0.5, 27.5]];
function bubbleRadius(a: number) {
  for (let i = 1; i < sizeStops.length; i++) {
    if (a <= sizeStops[i][0]) {
      const t = (a - sizeStops[i - 1][0]) / (sizeStops[i][0] - sizeStops[i - 1][0]);
      return sizeStops[i - 1][1] + (sizeStops[i][1] - sizeStops[i - 1][1]) * t;
    }
  }
  return 27.5;
}

// ---------- helpers ----------
type Side = { c: string; w: number };
function frame(sides: { top?: Side; right?: Side; bottom?: Side; left?: Side; extra?: (c: any) => void }, refs: { v: number; c: string; w: number; dash?: number[] }[] = []) {
  return {
    id: "frame",
    beforeDatasetsDraw(chart: any) {
      const { ctx, chartArea: a, scales } = chart;
      ctx.save();
      refs.forEach((r) => {
        const y = scales.y.getPixelForValue(r.v);
        ctx.strokeStyle = r.c; ctx.lineWidth = r.w; ctx.setLineDash(r.dash || []);
        ctx.beginPath(); ctx.moveTo(a.left, y); ctx.lineTo(a.right, y); ctx.stroke();
      });
      ctx.restore();
    },
    afterDatasetsDraw(chart: any) {
      const { ctx, chartArea: a } = chart;
      ctx.save();
      const seg = (s: Side | undefined, x0: number, y0: number, x1: number, y1: number) => {
        if (!s) return;
        ctx.strokeStyle = s.c; ctx.lineWidth = s.w;
        ctx.beginPath(); ctx.moveTo(x0, y0); ctx.lineTo(x1, y1); ctx.stroke();
      };
      seg(sides.left, a.left, a.top, a.left, a.bottom);
      seg(sides.right, a.right, a.top, a.right, a.bottom);
      seg(sides.top, a.left, a.top, a.right, a.top);
      seg(sides.bottom, a.left, a.bottom, a.right, a.bottom);
      if (sides.extra) sides.extra(chart);
      ctx.restore();
    },
  };
}
const hiddenAxis = { ticks: { display: false }, grid: { display: false }, border: { display: false } };
const baseOpts = { responsive: false, animation: false as const, devicePixelRatio: 1, events: [] as string[], plugins: { legend: { display: false }, tooltip: { enabled: false } } };
type Rect = { x: number; y: number; w: number; h: number };
type Spec = { rect: Rect; config: any };
function noPad(s: any) {
  s.paddingTop = s.paddingBottom = s.paddingLeft = s.paddingRight = 0;
  if (s._margins) s._margins = { left: 0, top: 0, right: 0, bottom: 0 };
}
// canvas rect + plot rect -> layout settings that put the plot area exactly
function place(rect: Rect, plot: [number, number, number, number]) {
  return {
    layout: { autoPadding: false, padding: { left: 0, top: plot[1] - rect.y, right: rect.x + rect.w - plot[2], bottom: 0 } },
    yFit: (s: any) => { s.width = plot[0] - rect.x; noPad(s); },
    xFit: (s: any) => { s.height = rect.y + rect.h - plot[3]; noPad(s); },
  };
}
const ticksAt = (vals: number[]) => (s: any) => { s.ticks = vals.map((value) => ({ value })); };
const tickFont = { family: FONT, size: 24.5 };

const X0 = 100.5, X1 = 1101;
const specs: Spec[] = [];

// panel a
{
  const rect = { x: 0, y: 35, w: 1110, h: 265 };
  const p = place(rect, [X0, 48, X1, 291]);
  specs.push({
    rect,
    config: {
      type: "bar",
      data: {
        labels: metaSignificance.map((_, i) => String(i + 1)),
        datasets: [{ data: metaSignificance, backgroundColor: metaSignificance.map((_, i) => (i < coreCount ? "#a7a7a7" : "#d2d2d2")), categoryPercentage: 1, barPercentage: 0.93 }],
      },
      options: {
        ...baseOpts, layout: p.layout,
        scales: {
          x: { ...hiddenAxis, afterFit: p.xFit },
          y: { min: 0, max: 15, afterFit: p.yFit, afterBuildTicks: ticksAt(significanceTicks), border: { display: false }, grid: { drawOnChartArea: false, tickLength: 10, color: "#777", lineWidth: 1.5 }, ticks: { font: tickFont, color: "#000", padding: 10, autoSkip: false, callback: (v: number) => String(v) } },
        },
      },
      plugins: [frame({ top: { c: "#808080", w: 2.5 }, right: { c: "#999", w: 1 }, left: { c: "#999", w: 1 }, bottom: { c: "#000", w: 2 }, extra: (c: any) => {
        const y = c.scales.y.getPixelForValue(fdrLine), g = c.ctx;
        g.strokeStyle = "#ff0000"; g.lineWidth = 2.8; g.beginPath(); g.moveTo(c.chartArea.left, y); g.lineTo(c.chartArea.right, y); g.stroke();
      } }, [{ v: 10, c: "#c8c8c8", w: 2, dash: [2, 9] }])],
    },
  });
}

// panel b
const rowTops = [369, 448, 527, 606, 684.7];
studies.forEach((_, si) => {
  const t = rowTops[si];
  const rect = { x: 96, y: Math.floor(t) - 4, w: 1010, h: 80 };
  const p = place(rect, [X0, t, X1, t + 71.5]);
  specs.push({
    rect,
    config: {
      type: "bar",
      data: {
        labels: foldChanges[si].map((_: number, i: number) => String(i + 1)),
        datasets: [
          { data: foldChanges[si].map(() => [0, 2]), backgroundColor: foldChanges[si].map(fcColor), categoryPercentage: 1, barPercentage: 1, grouped: false },
          { data: significance[si].map(() => [2, 3]), backgroundColor: significance[si].map((l: number) => sigGreys[l]), categoryPercentage: 1, barPercentage: 1, grouped: false },
        ],
      },
      options: {
        ...baseOpts, layout: p.layout,
        scales: { x: { ...hiddenAxis, afterFit: p.xFit }, y: { ...hiddenAxis, min: 0, max: 3, afterFit: p.yFit } },
      },
      plugins: [frame({ top: { c: "#000", w: 2.5 }, bottom: { c: "#000", w: 2.5 }, left: { c: "#000", w: 2.5 }, right: { c: "#000", w: 2.5 }, extra: (c: any) => {
        const y = c.scales.y.getPixelForValue(2), g = c.ctx;
        g.strokeStyle = "#000"; g.lineWidth = 2.2; g.beginPath(); g.moveTo(c.chartArea.left, y); g.lineTo(c.chartArea.right, y); g.stroke();
      } })],
    },
  });
});

// panel c
{
  const rect = { x: 0, y: 850, w: 1110, h: 700 };
  const p = place(rect, [X0, 863.7, X1, 1541.5]);
  const whiskers: any[] = [];
  auroc.forEach((_, si) => aurocHi[si].forEach((h, k) => whiskers.push({ x: k + studySlot[si], y: [aurocLo[si][k], h] })));
  specs.push({
    rect,
    config: {
      type: "scatter",
      data: {
        datasets: [
          { type: "bar", data: whiskers, backgroundColor: "#d6d6d6", barThickness: 2.4, grouped: false, order: 10 },
          ...studies.map((s, si) => ({
            type: "scatter", label: s, order: 5 - si,
            data: auroc[si].map((v, k) => ({ x: k + studySlot[si], y: v })),
            pointStyle: "rectRot", pointRadius: 8, backgroundColor: studyColors[si], borderColor: "#111", borderWidth: 1.7,
          })),
        ],
      },
      options: {
        ...baseOpts, layout: p.layout,
        scales: {
          x: { ...hiddenAxis, type: "linear", offset: false, min: -0.73, max: 28.72, afterFit: p.xFit },
          y: { min: 0, max: 1, afterFit: p.yFit, afterBuildTicks: ticksAt([0, 0.5, 1]), border: { display: false }, grid: { drawOnChartArea: false, tickLength: 10, color: "#777", lineWidth: 1.5 }, ticks: { font: tickFont, color: "#000", padding: 10, autoSkip: false, callback: (v: number) => v.toFixed(1) } },
        },
      },
      plugins: [frame({ top: { c: "#777", w: 2 }, right: { c: "#555", w: 1.3 }, left: { c: "#555", w: 1.3 }, bottom: { c: "#808080", w: 2 } }, [
        { v: 0.75, c: "#cfcfcf", w: 2, dash: [2, 9] }, { v: 0.25, c: "#cfcfcf", w: 2, dash: [2, 9] }, { v: 0.5, c: "#b5b5b5", w: 3 },
      ])],
    },
  });
}

// family strip
{
  const rect = { x: 108, y: 1549, w: 985, h: 26 };
  const p = place(rect, [108, 1549, 1093, 1575]);
  specs.push({
    rect,
    config: {
      type: "bar",
      data: { labels: speciesLabels, datasets: [{ data: speciesLabels.map(() => 1), backgroundColor: speciesFamily.map((f) => familyColors[f]), categoryPercentage: 1, barPercentage: 0.8 }] },
      options: { ...baseOpts, layout: p.layout, scales: { x: { ...hiddenAxis, afterFit: p.xFit }, y: { ...hiddenAxis, min: 0, max: 1, afterFit: p.yFit } } },
    },
  });
}

// per-study significance colour bar (x is log10 of the adjusted P value)
const pEdges = [-7, -6, -5, -4, -3, -2, -1, 0];
const pTicks = [-6, -4, -2, 0];
{
  const rect = { x: 1265, y: 115, w: 360, h: 50 };
  const p = place(rect, [1275.7, 121, 1616, 147]);
  specs.push({
    rect,
    config: {
      type: "bar",
      data: { labels: [""], datasets: pEdges.slice(1).map((hi, i) => ({ data: [[pEdges[i], hi]], backgroundColor: sigGreys[6 - i], grouped: false, categoryPercentage: 1, barPercentage: 1 })) },
      options: {
        ...baseOpts, indexAxis: "y", layout: p.layout,
        scales: {
          x: { type: "linear", offset: false, min: -7, max: 0, afterFit: p.xFit, afterBuildTicks: ticksAt(pTicks), border: { display: false }, grid: { drawOnChartArea: false, tickLength: 10, color: "#444", lineWidth: 1.3 }, ticks: { display: false } },
          y: { ...hiddenAxis, afterFit: p.yFit },
        },
      },
      plugins: [frame({ top: { c: "#666", w: 1.2 }, bottom: { c: "#333", w: 1.2 }, right: { c: "#666", w: 1.2 } })],
    },
  });
}

// fold change colour bar
const fcEdges = [-1.3, -1.246, -1.192, -1.138, -1.083, -1.029, -0.975, -0.921, -0.867, -0.813, -0.758, -0.704, -0.65, -0.596, -0.542, -0.488, -0.433, -0.379, -0.325, -0.271, -0.217, -0.163, -0.108, -0.054, 0, 0.054, 0.108, 0.163, 0.217, 0.271, 0.325, 0.379, 0.433, 0.488, 0.542, 0.596, 0.65, 0.704, 0.758, 0.813, 0.867, 0.921, 0.975, 1.029, 1.083, 1.138, 1.192, 1.246, 1.3];
const fcTicks = [-1.3, -0.867, -0.433, 0, 0.433, 0.867, 1.3];
{
  const rect = { x: 1235, y: 300, w: 425, h: 90 };
  const p = place(rect, [1275.7, 309, 1616, 335]);
  specs.push({
    rect,
    config: {
      type: "bar",
      data: { labels: [""], datasets: fcEdges.slice(1).map((hi, i) => ({ data: [[fcEdges[i], hi]], backgroundColor: fcColor((fcEdges[i] + hi) / 2), grouped: false, categoryPercentage: 1, barPercentage: 1 })) },
      options: {
        ...baseOpts, indexAxis: "y", layout: p.layout,
        scales: {
          x: { type: "linear", offset: false, min: -1.3, max: 1.3, afterFit: p.xFit, afterBuildTicks: ticksAt(fcTicks), border: { display: false }, grid: { drawOnChartArea: false, tickLength: 10, color: "#444", lineWidth: 1.3 }, ticks: { font: { family: FONT, size: 26.5 }, color: "#000", padding: 12, autoSkip: false, maxRotation: 0, callback: (v: number) => v.toFixed(1).replace("-", "\u2212") } },
          y: { ...hiddenAxis, afterFit: p.yFit },
        },
      },
      plugins: [frame({ top: { c: "#333", w: 1.2 }, bottom: { c: "#333", w: 1.2 } })],
    },
  });
}

// panel d
{
  const rect = { x: 1180, y: 522, w: 585, h: 940 };
  const p = place(rect, [1251.3, 530, 1755.6, 1407]);
  const pts = (arr: number[][]) => arr.map(([x, y, a]) => ({ x, y, r: bubbleRadius(a) }));
  specs.push({
    rect,
    config: {
      type: "bubble",
      data: {
        datasets: [
          ...leaderLines.map((l) => ({ type: "line", data: l.map(([x, y]) => ({ x, y })), borderColor: "#000", borderWidth: 1.6, pointRadius: 0, order: 1 })),
          { type: "line", data: diagonalLine.map(([x, y]) => ({ x, y })), borderColor: "#000", borderWidth: 4, borderDash: [3.5, 4], pointRadius: 0, order: 2 },
          { type: "bubble", data: pts(speciesRed), backgroundColor: "rgba(218,45,72,0.82)", borderColor: "rgba(255,255,255,0.6)", borderWidth: 0.8, order: 3 },
          { type: "bubble", data: pts(speciesGrey), backgroundColor: "rgba(0,0,0,0.3)", borderColor: "rgba(255,255,255,0.55)", borderWidth: 1, order: 4 },
        ],
      },
      options: {
        ...baseOpts, layout: p.layout,
        scales: {
          x: { type: "linear", min: -0.0089, max: 0.1827, afterFit: p.xFit, afterBuildTicks: ticksAt([0, 0.1]), border: { display: false }, grid: { drawOnChartArea: false, tickLength: 10, color: "#666", lineWidth: 1.3 }, ticks: { font: tickFont, color: "#000", padding: 13, autoSkip: false, maxRotation: 0, callback: (v: number) => v.toFixed(1) } },
          y: { type: "linear", min: -0.0086, max: 0.5828, afterFit: p.yFit, afterBuildTicks: ticksAt([0, 0.1, 0.2, 0.3, 0.4, 0.5]), border: { display: false }, grid: { drawOnChartArea: false, tickLength: 10, color: "#666", lineWidth: 1.3 }, ticks: { font: tickFont, color: "#000", padding: 13, autoSkip: false, callback: (v: number) => v.toFixed(1) } },
        },
      },
      plugins: [frame({ top: { c: "#666", w: 1.6 }, right: { c: "#666", w: 1.6 }, left: { c: "#666", w: 1.6 }, bottom: { c: "#666", w: 1.6 } })],
    },
  });
}

// ---------- text helpers ----------
function T({ x, y, a = "l", rot, size = 27, color = "#000", bold, children }: any) {
  const base: any = { position: "absolute", left: x, top: y, whiteSpace: "nowrap", lineHeight: 1, fontFamily: FONT, fontSize: size, color, fontWeight: bold ? 700 : 400 };
  if (rot) {
    if (a === "c") base.transform = "translate(-50%,-50%) rotate(-90deg)";
    else if (a === "l") { base.transform = "translateY(-50%) rotate(-90deg)"; base.transformOrigin = "0 50%"; }
    else { base.transform = "translate(-100%,-50%) rotate(-90deg)"; base.transformOrigin = "100% 50%"; }
  } else {
    base.transform = a === "c" ? "translate(-50%,-50%)" : a === "r" ? "translate(-100%,-50%)" : "translateY(-50%)";
  }
  return <div style={base}>{children}</div>;
}
const Sup = ({ children }: any) => <span style={{ fontSize: "0.72em", position: "relative", top: "-0.5em" }}>{children}</span>;
const Sci = ({ e }: { e: number }) => <>1{"\u2009"}×{"\u2009"}10<Sup>{"\u2212"}{e}</Sup></>;
function rich(s: string) {
  return s.split("*").map((part, i) => (i % 2 ? <i key={i}>{part}</i> : <span key={i}>{part}</span>));
}
const legendY = [1295, 1333, 1371.5, 1409.5, 1447];
const enrichedBoxes: [string, number, number][] = [["Enriched in CRC", 904, 1162], ["Depleted in CRC", 1243, 1501]];

export default function App() {
  const refs = useRef<(HTMLCanvasElement | null)[]>([]);
  useEffect(() => {
    const charts = specs.map((s, i) => new Chart(refs.current[i] as HTMLCanvasElement, s.config));
    return () => charts.forEach((c) => c.destroy());
  }, []);
  const boxes: [number, number, number, number][] = [[43, 369, 89, 441], [43, 448, 89, 520], [45, 527, 90, 599], [43, 606, 89, 677], [43, 685, 89, 756]];
  return (
    <div style={{ position: "absolute", left: 0, top: 0, width: 1765, height: 2129, overflow: "hidden", background: "#fff" }}>
      <svg width={1765} height={2129} style={{ position: "absolute", left: 0, top: 0 }}>
        <polygon points="100,291 410,291 410,765 1101,863.7 100,863.7" fill="#e3e3e3" />
      </svg>
      {specs.map((s, i) => (
        <canvas key={i} ref={(el) => { refs.current[i] = el; }} width={s.rect.w} height={s.rect.h} style={{ position: "absolute", left: s.rect.x, top: s.rect.y, width: s.rect.w, height: s.rect.h }} />
      ))}

      {/* panel letters */}
      <T x={1} y={8} size={30} bold>a</T>
      <T x={1} y={334} size={30} bold>b</T>
      <T x={1} y={831} size={30} bold>c</T>
      <T x={1139} y={528} size={30} bold>d</T>

      {/* titles */}
      <T x={600} y={22} a="c">Meta-analysis significance</T>
      <T x={601} y={344} a="c">Species associations in individual studies</T>
      <T x={600} y={844} a="c">Effect size of core associations</T>
      <T x={19} y={170} a="c" rot>{"\u2212"}log<span style={{ fontSize: "0.7em", position: "relative", top: "0.3em" }}>10</span>(<i>q</i>)</T>
      <T x={479} y={190} color="#ff0000">FDR{"\u2009"}&lt;{"\u2009"}<Sci e={5} /></T>

      {/* study labels */}
      <T x={20} y={563} a="c" rot size={26}>Studies</T>
      {boxes.map((b, i) => (
        <React.Fragment key={i}>
          <div style={{ position: "absolute", left: b[0], top: b[1], width: b[2] - b[0], height: b[3] - b[1], background: studyColors[i] }} />
          <T x={(b[0] + b[2]) / 2} y={(b[1] + b[3]) / 2} a="c" rot size={27}>{studies[i]}</T>
        </React.Fragment>
      ))}

      {/* panel c side */}
      <T x={18} y={1202} a="c" rot size={26}>AUROC</T>
      {enrichedBoxes.map(([t, y0, y1]) => (
        <React.Fragment key={t}>
          <div style={{ position: "absolute", left: 43, top: y0, width: 46, height: y1 - y0, background: "#a8a8a8" }} />
          <T x={66} y={(y0 + y1) / 2} a="c" rot size={27}>{t}</T>
        </React.Fragment>
      ))}
      <svg width={60} height={200} style={{ position: "absolute", left: 130, top: 1275 }}>
        {legendY.map((y, i) => (
          <polygon key={i} points={`27,${y - 1275 - 11.5} 38.5,${y - 1275} 27,${y - 1275 + 11.5} 15.5,${y - 1275}`} fill={studyColors[i]} stroke="#111" strokeWidth={1.8} />
        ))}
      </svg>
      {studies.map((s, i) => <T key={s} x={182} y={legendY[i]} size={25}>{s}</T>)}

      {/* species labels */}
      {speciesLabels.map((s, k) => <T key={k} x={125.3 + 33.97 * k} y={1587} a="r" rot>{rich(s)}</T>)}

      {/* colour legends */}
      <T x={1446} y={62} a="c">Per-study significance</T>
      <T x={1446} y={94} a="c">(adjusted <i>P</i> value)</T>
      <T x={1327} y={190} a="c" size={22}><Sci e={6} /></T>
      <T x={1425} y={190} a="c" size={22}><Sci e={4} /></T>
      <T x={1522} y={190} a="c" size={22}><Sci e={2} /></T>
      <T x={1616} y={190} a="c" size={22}>1</T>
      <T x={1446} y={247} a="c">Generalized fold change</T>
      <T x={1446} y={279} a="c">(log relative abundance)</T>

      {/* panel d text */}
      <T x={1154} y={944} a="c" rot>Variance explained by study (average 5.0%)</T>
      <T x={1503} y={1485} a="c">Variance explained by CRC (average 0.9%)</T>
      <T x={1509} y={584}>Trimmed mean</T>
      <T x={1509} y={617}>abundance</T>
      <svg width={60} height={160} style={{ position: "absolute", left: 1510, top: 640 }}>
        {abundanceLevels.map((a, i) => <circle key={a} cx={29.7} cy={[15, 50, 84, 119][i]} r={bubbleRadius(a)} fill="#b3b3b3" />)}
      </svg>
      {abundanceLevels.map((a, i) => <T key={a} x={1564} y={[655, 690, 724, 759][i]}><Sci e={-a} /></T>)}
      <T x={1510.5} y={802}>Significance</T>
      <svg width={30} height={30} style={{ position: "absolute", left: 1522, top: 830 }}>
        <circle cx={15} cy={15} r={9.5} fill="#db4f63" />
      </svg>
      <T x={1559} y={845}>FDR{"\u2009"}&lt;{"\u2009"}<Sci e={5} /></T>
      {pointLabels.map(([s, x, y]) => <T key={s} x={x} y={y} a="l" rot size={22.5}>{rich(s)}</T>)}

      {/* family legend */}
      <T x={1165} y={1573}>Family</T>
      {familyNames.map((f, i) => (
        <React.Fragment key={f}>
          <div style={{ position: "absolute", left: 1163, top: 1600.7 + 43.7 * i, width: 27, height: 25.5, background: familyColors[i] }} />
          <T x={1200} y={1613.5 + 43.7 * i}>{f}</T>
        </React.Fragment>
      ))}
    </div>
  );
}
